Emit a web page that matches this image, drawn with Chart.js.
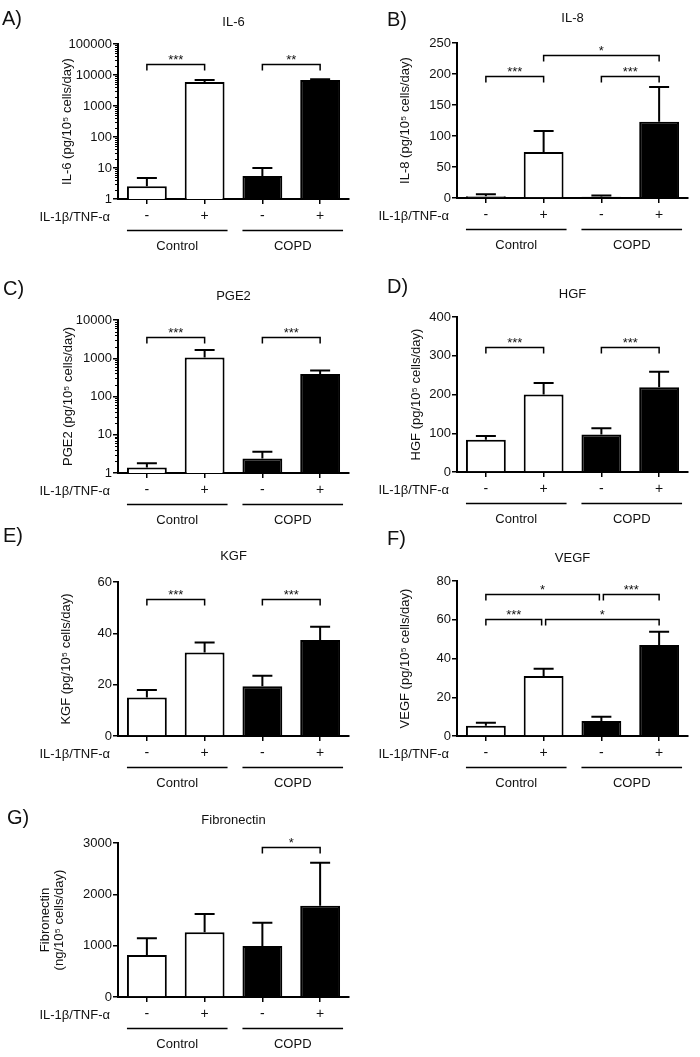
<!DOCTYPE html>
<html>
<head>
<meta charset="utf-8">
<script src="https://cdn.jsdelivr.net/npm/chart.js@4.4.0/dist/chart.umd.min.js"></script>
<style>
  body { margin: 0; background: #fff; }
  #page { position: relative; width: 700px; height: 1057px; overflow: hidden; background: #fff; }
  .panel { position: absolute; }
</style>
</head>
<body>
<div id="page"></div>
<script>
'use strict';

// x categories: treatment with IL-1b/TNF-a, two groups of two bars
const treatment = ['-', '+', '-', '+'];
const groups = ['Control', 'COPD'];
const barColors = ['#ffffff', '#ffffff', '#000000', '#000000'];

// IL-6 (log axis)
const il6Mean = [2.6, 5900, 5.5, 6900];
const il6Sem = [2.2, 950, 4.5, 350];
const il6Ticks = [1, 10, 100, 1000, 10000, 100000];
const il6Sig = [[0, 1, 22000, '***'], [2, 3, 22000, '**']];

// IL-8
const il8Mean = [3, 74, 2, 123];
const il8Sem = [3, 34, 2, 56];
const il8Ticks = [0, 50, 100, 150, 200, 250];
const il8Sig = [[0, 1, 197, '***'], [2, 3, 197, '***'], [1, 3, 231, '*']];

// PGE2 (log axis)
const pge2Mean = [1.4, 1050, 2.4, 390];
const pge2Sem = [0.4, 600, 1.2, 90];
const pge2Ticks = [1, 10, 100, 1000, 10000];
const pge2Sig = [[0, 1, 3500, '***'], [2, 3, 3500, '***']];

// HGF
const hgfMean = [83, 200, 97, 219];
const hgfSem = [10, 30, 16, 40];
const hgfTicks = [0, 100, 200, 300, 400];
const hgfSig = [[0, 1, 323, '***'], [2, 3, 323, '***']];

// KGF
const kgfMean = [15, 32.5, 19.4, 37.4];
const kgfSem = [2.9, 3.9, 4.1, 5.2];
const kgfTicks = [0, 20, 40, 60];
const kgfSig = [[0, 1, 53.5, '***'], [2, 3, 53.5, '***']];

// VEGF
const vegfMean = [5.3, 31, 7.7, 47];
const vegfSem = [1.6, 3.7, 2.3, 6.8];
const vegfTicks = [0, 20, 40, 60, 80];
const vegfSig = [[0, 1, 60.2, '***'], [1, 3, 60.2, '*'], [0, 2, 73.3, '*'], [2, 3, 73.3, '***']];

// Fibronectin
const fnMean = [818, 1260, 994, 1779];
const fnSem = [325, 357, 454, 838];
const fnTicks = [0, 1000, 2000, 3000];
const fnSig = [[2, 3, 2917, '*']];

const FONT = '"Liberation Sans", Arial, Helvetica, sans-serif';
const INK = '#111';
Chart.defaults.font.family = FONT;
Chart.defaults.color = INK;

// box = canvas [left, top, w, h]; area = wanted chart area in page px
const panels = [
  { tag: 'A)', name: 'IL-6', yTitle: 'IL-6 (pg/10⁵ cells/day)', mean: il6Mean, sem: il6Sem, ticks: il6Ticks, sig: il6Sig, log: true,
    box: [0, 0, 350, 270], area: [118, 44, 349, 199], titleY: 22, yTitleX: 67, tagX: 2, tagY: 19 },
  { tag: 'B)', name: 'IL-8', yTitle: 'IL-8 (pg/10⁵ cells/day)', mean: il8Mean, sem: il8Sem, ticks: il8Ticks, sig: il8Sig,
    box: [350, 0, 350, 270], area: [457, 43, 688, 198], titleY: 18.5, yTitleX: 405, tagX: 387, tagY: 20 },
  { tag: 'C)', name: 'PGE2', yTitle: 'PGE2 (pg/10⁵ cells/day)', mean: pge2Mean, sem: pge2Sem, ticks: pge2Ticks, sig: pge2Sig, log: true,
    box: [0, 270, 350, 262], area: [118, 320, 349, 473], titleY: 296, yTitleX: 68, tagX: 3, tagY: 289 },
  { tag: 'D)', name: 'HGF', yTitle: 'HGF (pg/10⁵ cells/day)', mean: hgfMean, sem: hgfSem, ticks: hgfTicks, sig: hgfSig,
    box: [350, 270, 350, 262], area: [457, 317, 688, 472], titleY: 294, yTitleX: 416, tagX: 387, tagY: 287 },
  { tag: 'E)', name: 'KGF', yTitle: 'KGF (pg/10⁵ cells/day)', mean: kgfMean, sem: kgfSem, ticks: kgfTicks, sig: kgfSig,
    box: [0, 520, 350, 280], area: [118, 582, 349, 736], titleY: 556, yTitleX: 66, tagX: 3, tagY: 536 },
  { tag: 'F)', name: 'VEGF', yTitle: 'VEGF (pg/10⁵ cells/day)', mean: vegfMean, sem: vegfSem, ticks: vegfTicks, sig: vegfSig,
    box: [350, 520, 350, 280], area: [457, 581, 688, 736], titleY: 558, yTitleX: 405, tagX: 387, tagY: 539 },
  { tag: 'G)', name: 'Fibronectin', yTitle: ['Fibronectin', '(ng/10⁵ cells/day)'], mean: fnMean, sem: fnSem, ticks: fnTicks, sig: fnSig,
    box: [0, 800, 350, 257], area: [118, 843, 349, 997], titleY: 820, yTitleX: 45, tagX: 7, tagY: 818 }
];

function makeDecor(p) {
  return {
    id: 'decor',
    afterDatasetsDraw(chart) {
      const ctx = chart.ctx;
      const xs = chart.scales.x, ys = chart.scales.y;
      const bars = chart.getDatasetMeta(0).data;
      ctx.save();
      ctx.strokeStyle = '#000';
      ctx.lineWidth = 2;
      // one-sided error bars
      bars.forEach(function(b, i) {
        const top = ys.getPixelForValue(p.mean[i] + p.sem[i]);
        ctx.beginPath();
        ctx.moveTo(b.x, b.y);
        ctx.lineTo(b.x, top);
        ctx.moveTo(b.x - 10, top);
        ctx.lineTo(b.x + 10, top);
        ctx.stroke();
      });
      // significance brackets
      ctx.lineWidth = 1.5;
      ctx.fillStyle = INK;
      ctx.font = '13px ' + FONT;
      ctx.textAlign = 'center';
      ctx.textBaseline = 'alphabetic';
      p.sig.forEach(function(s) {
        let x1 = xs.getPixelForValue(s[0]);
        let x2 = xs.getPixelForValue(s[1]);
        const sameRow = p.sig.filter(function(o) { return o !== s && o[2] === s[2]; });
        if (sameRow.some(function(o) { return o[1] === s[0]; })) x1 += 2;
        if (sameRow.some(function(o) { return o[0] === s[1]; })) x2 -= 2;
        const y = Math.round(ys.getPixelForValue(s[2])) + 0.5;
        ctx.beginPath();
        ctx.moveTo(x1, y + 6);
        ctx.lineTo(x1, y);
        ctx.lineTo(x2, y);
        ctx.lineTo(x2, y + 6);
        ctx.stroke();
        ctx.fillText(s[3], (x1 + x2) / 2, y - 1);
      });
      ctx.restore();
    },
    afterDraw(chart) {
      const ctx = chart.ctx;
      const area = chart.chartArea;
      const ys = chart.scales.y;
      const bars = chart.getDatasetMeta(0).data;
      ctx.save();
      ctx.strokeStyle = '#000';
      ctx.fillStyle = INK;
      // minor ticks on log axes
      if (p.log) {
        ctx.lineWidth = 1;
        for (let k = 0; k < p.ticks.length - 1; k++) {
          for (let m = 2; m < 10; m++) {
            const py = Math.round(ys.getPixelForValue(m * p.ticks[k])) + 0.5;
            ctx.beginPath();
            ctx.moveTo(area.left - 3, py);
            ctx.lineTo(area.left, py);
            ctx.stroke();
          }
        }
      }
      // treatment row label
      ctx.font = '13px ' + FONT;
      ctx.textBaseline = 'middle';
      ctx.textAlign = 'right';
      ctx.fillText('IL-1β/TNF-α', area.left - 8, area.bottom + 18);
      // group underlines and names
      ctx.textAlign = 'center';
      ctx.lineWidth = 1.5;
      groups.forEach(function(g, gi) {
        const a = bars[gi * 2], b = bars[gi * 2 + 1];
        const x1 = a.x - a.width / 2, x2 = b.x + b.width / 2 + 3;
        const y = area.bottom + 31.5;
        ctx.beginPath();
        ctx.moveTo(x1, y);
        ctx.lineTo(x2, y);
        ctx.stroke();
        ctx.fillText(g, (x1 + x2) / 2, area.bottom + 47);
      });
      // panel letter
      ctx.font = '20px ' + FONT;
      ctx.textAlign = 'left';
      ctx.fillText(p.tag, p.tagX - p.box[0], p.tagY - p.box[1]);
      ctx.restore();
    }
  };
}

const page = document.getElementById('page');

panels.forEach(function(p) {
  const [bx, by, bw, bh] = p.box;
  const [L, T, R, B] = p.area;
  const div = document.createElement('div');
  div.className = 'panel';
  div.style.left = bx + 'px';
  div.style.top = by + 'px';
  div.style.width = bw + 'px';
  div.style.height = bh + 'px';
  const canvas = document.createElement('canvas');
  div.appendChild(canvas);
  page.appendChild(div);

  const titleLh = 13 * 1.2;
  const padTop = (p.titleY - by) - titleLh / 2;
  const padBottom = (T - by) - padTop - titleLh;
  const yTitleSize = 13;
  const yTitleLh = yTitleSize * 1.1;
  const padLeft = (p.yTitleX - bx) - yTitleLh / 2;
  const yWidth = (L - bx) - padLeft;
  const xHeight = 30;

  new Chart(canvas, {
    type: 'bar',
    data: {
      labels: treatment,
      datasets: [{
        data: p.mean,
        backgroundColor: barColors,
        borderColor: '#000',
        borderWidth: 2,
        barPercentage: 0.69,
        categoryPercentage: 1
      }]
    },
    options: {
      responsive: true,
      maintainAspectRatio: false,
      animation: false,
      events: [],
      layout: {
        padding: { left: padLeft, right: (bx + bw) - R, top: 0, bottom: bh - (B - by) - xHeight }
      },
      plugins: {
        legend: { display: false },
        tooltip: { enabled: false },
        title: {
          display: true,
          text: p.name,
          fullSize: false,
          color: INK,
          font: { size: 13, weight: 'normal' },
          padding: { top: padTop, bottom: padBottom }
        }
      },
      scales: {
        x: {
          afterFit: function(s) { s.height = xHeight; },
          grid: { display: true, drawOnChartArea: false, offset: false, tickLength: 5, color: '#000', lineWidth: 1.5 },
          border: { display: true, color: '#000', width: 2 },
          ticks: { color: INK, font: { size: 14 }, padding: 4 }
        },
        y: {
          type: p.log ? 'logarithmic' : 'linear',
          min: p.ticks[0],
          max: p.ticks[p.ticks.length - 1],
          afterFit: function(s) { s.width = yWidth; },
          afterBuildTicks: function(s) { s.ticks = p.ticks.map(function(v) { return { value: v }; }); },
          grid: { display: true, drawOnChartArea: false, tickLength: 5, color: '#000', lineWidth: 1.5 },
          border: { display: true, color: '#000', width: 2 },
          ticks: { color: INK, font: { size: 13 }, padding: 1, callback: function(v) { return String(v); } },
          title: { display: true, text: p.yTitle, color: INK, font: { size: yTitleSize, lineHeight: 1.1 }, padding: { top: 0, bottom: 0 } }
        }
      }
    },
    plugins: [makeDecor(p)]
  });
});
</script>
</body>
</html>
